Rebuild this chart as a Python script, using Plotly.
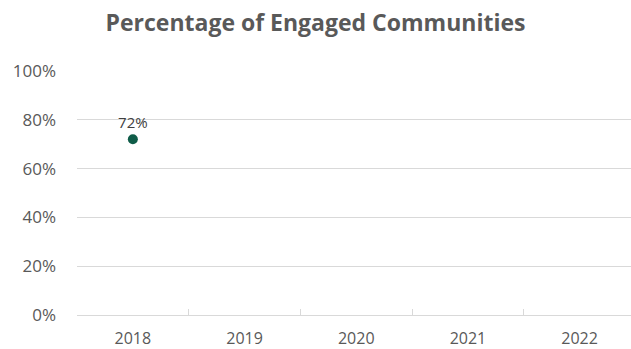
import plotly.graph_objects as go

years = ["2018", "2019", "2020", "2021", "2022"]
engaged = [0.72, None, None, None, None]
y_ticks = [0, 0.2, 0.4, 0.6, 0.8, 1.0]

fig = go.Figure()
fig.add_trace(go.Scatter(
    x=years, y=engaged, mode="markers+text",
    marker=dict(color="#0f5c48", size=10),
    text=[f"{v:.0%}" if v is not None else "" for v in engaged],
    textposition="top center",
    textfont=dict(family="Open Sans", size=15, color="#404040"),
    cliponaxis=False, showlegend=False, hoverinfo="skip",
))

fig.update_layout(
    width=631, height=349,
    margin=dict(l=77, r=0, t=71, b=32),
    paper_bgcolor="white", plot_bgcolor="white",
    title=dict(text="<b>Percentage of Engaged Communities</b>",
               x=0.5, xanchor="center", y=0.935, yanchor="middle",
               font=dict(family="Open Sans", size=23, color="#595959")),
    font=dict(family="Open Sans", color="#595959", size=16),
)
fig.update_xaxes(
    type="category", categoryorder="array", categoryarray=years,
    range=[-0.5, 4.46], showgrid=False,
    showline=True, linecolor="#d9d9d9", linewidth=1,
    ticks="inside", tickson="boundaries", ticklen=6, tickcolor="#d9d9d9",
    ticklabelstandoff=9,
    tickfont=dict(size=16, color="#595959"),
)
fig.update_yaxes(
    range=[0, 1], tickvals=y_ticks, tickformat=".0%",
    showgrid=True, gridcolor="#d9d9d9", gridwidth=1,
    zeroline=False, showline=False, ticks="",
    ticklabelstandoff=20,
    tickfont=dict(size=17, color="#595959"),
)

fig.write_html("out.html")
